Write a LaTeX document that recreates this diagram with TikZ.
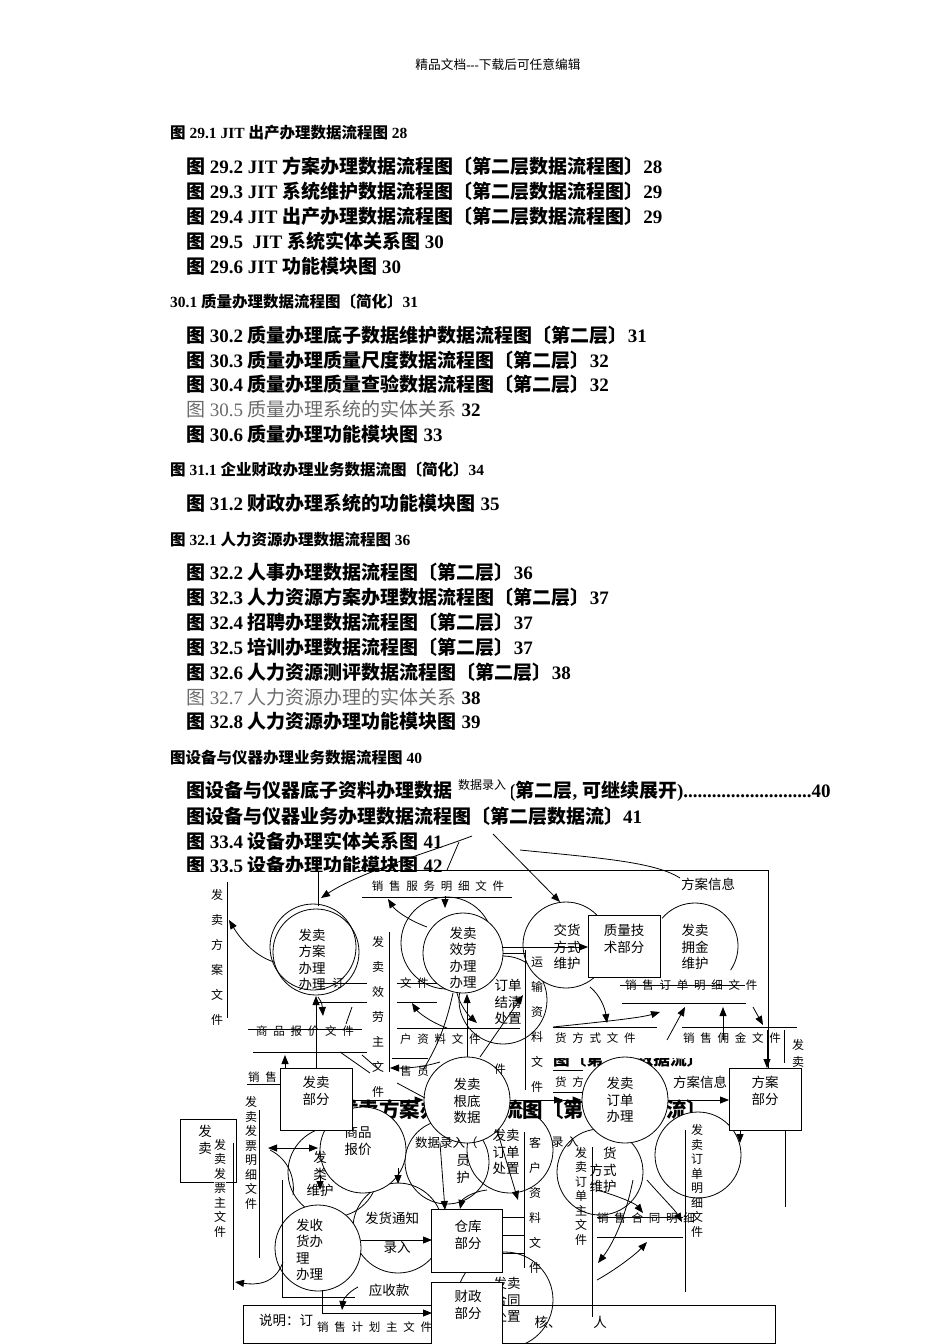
\documentclass[tikz,border=0pt]{standalone}
\usepackage{fontspec}
\setmainfont{Liberation Serif}
\newfontfamily\cjk{Noto Sans CJK SC}
\usetikzlibrary{arrows.meta}
\newcount\cjkcnt
\newXeTeXintercharclass\cjkcls
\cjkcnt="3000
\loop \XeTeXcharclass\cjkcnt=\cjkcls \advance\cjkcnt by 1 \ifnum\cjkcnt<"3040 \repeat
\cjkcnt="4E00
\loop \XeTeXcharclass\cjkcnt=\cjkcls \advance\cjkcnt by 1 \ifnum\cjkcnt<"A000 \repeat
\cjkcnt="FF00
\loop \XeTeXcharclass\cjkcnt=\cjkcls \advance\cjkcnt by 1 \ifnum\cjkcnt<"FFF0 \repeat
\XeTeXinterchartoks 0 \cjkcls = {\cjk}
\XeTeXinterchartoks 4095 \cjkcls = {\cjk}
\XeTeXinterchartoks \cjkcls 0 = {\rmfamily}
\XeTeXinterchartoks \cjkcls 4095 = {\rmfamily}
\XeTeXinterchartokenstate=1
\definecolor{greytxt}{gray}{0.42}
\tikzset{
 proc/.style={circle, draw, line width=0.8pt, minimum size=86pt, inner sep=0pt},
 ent/.style={rectangle, draw, line width=0.8pt, fill=white, minimum width=72pt, minimum height=62pt, inner sep=0pt},
 lab/.style={font=\fontsize{13.5}{16.5}\selectfont, align=center, inner sep=0pt},
 slab/.style={font=\fontsize{11.5}{14}\selectfont, inner sep=0pt},
 vlab/.style={font=\fontsize{12}{25}\selectfont, align=center, inner sep=0pt},
 vlabt/.style={font=\fontsize{12}{14.5}\selectfont, align=center, inner sep=0pt},
 ln/.style={line width=0.8pt},
 arr/.style={line width=0.8pt, -{Triangle[length=9pt,width=7pt]}},
 toc/.style={font=\bfseries\fontsize{19}{22}\selectfont, anchor=west, inner sep=0pt},
 toch/.style={font=\bfseries\fontsize{15.5}{18}\selectfont, anchor=west, inner sep=0pt},
}
\begin{document}
\begin{tikzpicture}[x=1pt,y=-1pt]
\useasboundingbox (0,0) rectangle (950,1344);
\fill[white] (0,0) rectangle (950,1344);
% ---------- header and list ----------
\node[font=\fontsize{12.7}{15}\selectfont, inner sep=0pt] (hdr) at (498,65) {精品文档{-}{-}{-}下载后可任意编辑};
\node[toch] (h291) at (170,133) {图 29.1 JIT 出产办理数据流程图 28};
\node[toc] (t292) at (186,166) {图 29.2 JIT 方案办理数据流程图〔第二层数据流程图〕28};
\node[toc] (t293) at (186,191) {图 29.3 JIT 系统维护数据流程图〔第二层数据流程图〕29};
\node[toc] (t294) at (186,216) {图 29.4 JIT 出产办理数据流程图〔第二层数据流程图〕29};
\node[toc] (t295) at (186,241) {图 29.5 \ JIT 系统实体关系图 30};
\node[toc] (t296) at (186,266) {图 29.6 JIT 功能模块图 30};
\node[toch] (h301) at (170,302) {30.1 质量办理数据流程图〔简化〕31};
\node[toc] (t302) at (186,335) {图 30.2 质量办理底子数据维护数据流程图〔第二层〕31};
\node[toc] (t303) at (186,360) {图 30.3 质量办理质量尺度数据流程图〔第二层〕32};
\node[toc] (t304) at (186,384) {图 30.4 质量办理质量查验数据流程图〔第二层〕32};
\node[toc] (t305) at (186,409) {{\color{greytxt}\mdseries 图 30.5 质量办理系统的实体关系} 32};
\node[toc] (t306) at (186,434) {图 30.6 质量办理功能模块图 33};
\node[toch] (h311) at (170,470) {图 31.1 企业财政办理业务数据流图〔简化〕34};
\node[toc] (t312) at (186,503) {图 31.2 财政办理系统的功能模块图 35};
\node[toch] (h321) at (170,540) {图 32.1 人力资源办理数据流程图 36};
\node[toc] (t322) at (186,572) {图 32.2 人事办理数据流程图〔第二层〕36};
\node[toc] (t323) at (186,597) {图 32.3 人力资源方案办理数据流程图〔第二层〕37};
\node[toc] (t324) at (186,622) {图 32.4 招聘办理数据流程图〔第二层〕37};
\node[toc] (t325) at (186,647) {图 32.5 培训办理数据流程图〔第二层〕37};
\node[toc] (t326) at (186,672) {图 32.6 人力资源测评数据流程图〔第二层〕38};
\node[toc] (t327) at (186,697) {{\color{greytxt}\mdseries 图 32.7 人力资源办理的实体关系} 38};
\node[toc] (t328) at (186,721) {图 32.8 人力资源办理功能模块图 39};
\node[toch] (h331) at (170,758) {图设备与仪器办理业务数据流程图 40};
\node[toc] (t331) at (186,791) {图设备与仪器底子资料办理数据流程图(第二层, 可继续展开)...........................40};
\node[toc] (t332) at (186,816) {图设备与仪器业务办理数据流程图〔第二层数据流〕41};
\node[toc] (t334) at (186,841) {图 33.4 设备办理实体关系图 41};
\node[toc] (t335) at (186,865) {图 33.5 设备办理功能模块图 42};
\fill[white] (452,776) rectangle (511,803);
\node[font=\fontsize{12}{14}\selectfont, inner sep=0pt] (dlr) at (482,785) {数据录入};
% ---------- diagram page ----------
\fill[white] (180,872) rectangle (806,1344);
% ghost heading texts
\node[font=\bfseries\fontsize{20.5}{22}\selectfont, anchor=west, inner sep=0pt] (g1) at (338,1110) {发卖方案办理数据流图〔第二层数据流〕};
\begin{scope}
\clip (545,1058) rectangle (712,1068);
\node[font=\bfseries\fontsize{16.7}{18}\selectfont, anchor=west, inner sep=0pt] (g2) at (553,1059) {图〔第二层数据流〕};
\end{scope}
% explanation box and left box
\draw[ln, fill=white] (243,1305) rectangle (775,1343);
\node[lab, anchor=west] (note) at (259,1320) {说明：订};
\node[lab] (note2) at (548,1322) {核、};
\node[lab] (note3) at (600,1322) {人};
\draw[ln, fill=white] (180,1119) rectangle (236,1182);
\node[lab] (lbx) at (205,1140) {发\\卖};
% background (unfilled) circles
\node[proc, minimum size=86pt] (c1b) at (313,947) {};
\node[proc, minimum size=86pt] (c1) at (316,952) {};
\node[proc, minimum size=92pt] (c2b) at (447,943) {};
\node[proc, minimum size=88pt] (coc) at (503,1000) {};
\node[proc, minimum size=86pt] (cso) at (510,1150) {};
\node[proc, minimum size=84pt] (cde) at (447,1162) {};
\node[proc, minimum size=86pt] (cdm) at (600,1172) {};
\node[proc, minimum size=96pt] (cht) at (505,1300) {};
\node[proc, minimum size=90pt] (c8) at (333,1172) {};
\node[proc, minimum size=90pt] (c14) at (398,1228) {};
% white filled circles
\node[proc, minimum size=80pt, fill=white] (c2) at (463,953) {};
\node[proc, fill=white] (c3) at (566,945) {};
\node[proc, fill=white] (c7) at (467,1100) {};
\node[proc, fill=white] (c10) at (625,1100) {};
\node[proc, fill=white] (c12) at (698,1155) {};
\node[proc, fill=white] (c9) at (363,1150) {};
\node[proc, fill=white] (c13) at (318,1248) {};
\draw[ln] ([shift={(-140:43)}]695,946) arc[start angle=-140, end angle=34, radius=43];
% ---------- data stores ----------
\draw[ln] (227,882) -- (227,1018);
\node[vlab] (sfa) at (217,957) {发\\卖\\方\\案\\文\\件};
\draw[ln] (362,897) -- (512,897);
\node[slab] (sfw) at (438,886) {销~~售~~服~~务~~明~~细~~文~~件};
\draw[ln] (389,932) -- (389,1072);
\node[vlab, fill=white] (sxz) at (378,1017) {发\\卖\\效\\劳\\主\\文\\件};
\draw[ln] (317,983) -- (367,983) (397,983) -- (437,983);
\draw[ln] (317,1002) -- (367,1002) (397,1002) -- (437,1002);
\node[slab] (sd1) at (338,983) {订};
\node[slab, anchor=west] (sd2) at (400,983) {文~~件};
\draw[ln] (248,1029) -- (362,1029);
\draw[ln] (253,1052) -- (367,1052);
\node[slab] (spb) at (305,1031) {商~~品~~报~~价~~文~~件};
\draw[ln] (397,1028) -- (520,1028);
\node[slab, anchor=west] (skh) at (400,1039) {户~~资~~料~~文~~件};
\draw[ln] (392,1058) -- (428,1058);
\node[slab, anchor=west] (ssy) at (400,1071) {售~~员};
\node[slab] (ssy2) at (500,1069) {件};
\draw[ln] (525,950) -- (525,1090);
\node[vlab] (syz) at (537,1025) {运\\输\\资\\料\\文\\件};
\draw[ln] (553,1027) -- (657,1027);
\node[slab, anchor=west] (sjh) at (555,1038) {货~~方~~式~~文~~件};
\draw[ln] (553,1070) -- (583,1070) (553,1092) -- (583,1092);
\node[slab, anchor=west] (sjh2) at (555,1082) {货~~方};
\draw[ln] (682,1027) -- (797,1027);
\node[slab, anchor=west] (syj) at (683,1038) {销~~售~~佣~~金~~文~~件};
\draw[ln] (620,985) -- (745,985);
\draw[ln] (622,1003) -- (746,1003);
\node[slab, anchor=west] (sdm) at (625,985) {销~~售~~订~~单~~明~~细~~文~~件};
\draw[ln] (524,1132) -- (524,1268);
\node[vlab] (skz) at (535,1205) {客\\户\\资\\料\\文\\件};
\draw[ln] (592,1147) -- (592,1317);
\node[vlabt] (sdz) at (581,1196) {发\\卖\\订\\单\\主\\文\\件};
\draw[ln] (259,1110) -- (259,1258);
\node[vlabt] (sfm) at (251,1153) {发\\卖\\发\\票\\明\\细\\文\\件};
\draw[ln] (233,1143) -- (233,1290);
\node[vlabt, fill=white] (sfz) at (220,1188) {发\\卖\\发\\票\\主\\文\\件};
\draw[ln] (685,1130) -- (685,1292);
\node[vlabt] (sdx) at (697,1181) {发\\卖\\订\\单\\明\\细\\文\\件};
\draw[ln] (784,1030) -- (784,1063) (785,1130) -- (785,1207);
\node[font=\fontsize{12}{17}\selectfont, align=center, inner sep=0pt] (sfr) at (798,1053) {发\\卖};
\draw[ln] (597,1217) -- (683,1217);
\draw[ln] (597,1237) -- (683,1237);
\node[slab, anchor=west] (sht) at (597,1218) {销~~售~~合~~同~~明~~细};
\node[slab, anchor=west] (sjz) at (317,1327) {销~~售~~计~~划~~主~~文~~件};
\draw[ln] (247,1084) -- (280,1084);
\node[slab, anchor=west] (sxs) at (248,1077) {销~~售};
% ---------- flows ----------
\draw[ln] (360,870) -- (768,870) -- (768,1068);
\draw[arr] (472,836) .. controls (430,852) and (360,872) .. (321,898);
\draw[ln] (459,842) -- (447,870);
\draw[ln] (318,871) -- (318,906);
\draw[arr] (493,834) -- (560,902);
\draw[ln] (520,850) .. controls (600,858) and (655,862) .. (680,878);
\node[lab] (fax) at (708,884) {方案信息};
\draw[arr] (274,962) .. controls (252,955) and (238,935) .. (229,920);
\draw[arr] (445,896) -- (445,908);
\draw[arr] (427,927) .. controls (408,920) and (395,910) .. (388,899);
\draw[arr] (503,947) -- (588,947);
\draw[ln] (503,953) -- (525,953);
\draw[arr] (316,1068) -- (316,996);
\draw[arr] (318,997) .. controls (322,1003) .. (323,1016);
\draw[ln] (352,1007) -- (346,1024);
\draw[arr] (467,1057) -- (467,994);
\draw[arr] (457,993) .. controls (460,1005) and (468,1015) .. (477,1023);
\draw[ln] (453,993) .. controls (445,1030) and (435,1050) .. (423,1070);
\draw[arr] (447,1028) .. controls (430,1022) and (418,1012) .. (412,1003);
\draw[arr] (440,1062) .. controls (420,1068) and (405,1068) .. (390,1068);
\draw[arr] (480,1057) -- (523,995);
\draw[arr] (590,987) .. controls (600,995) and (605,1008) .. (607,1023);
\draw[arr] (553,1027) .. controls (600,1022) and (640,1018) .. (660,1012);
\draw[arr] (667,1040) -- (685,1007);
\draw[arr] (723,1040) -- (723,1007);
\draw[arr] (753,1007) -- (763,1025);
\draw[arr] (767,1030) -- (767,1068);
\draw[ln] (340,1052) -- (370,1073) (362,1055) -- (377,1068) (397,1083) -- (425,1098);
\draw[arr] (285,1068) -- (285,1055);
\draw[arr] (352,1100) -- (c7.west);
\draw[arr] (c7.east) -- (563,1100);
\draw[arr] (563,1100) -- (c10.west);
\draw[arr] (c10.east) -- (729,1100);
\node[lab] (fax2) at (700,1082) {方案信息};
\draw[arr] (740,1130) -- (740,1143);
\draw[{Triangle[length=9pt,width=7pt]}-{Triangle[length=9pt,width=7pt]}, line width=0.8pt] (268,1148) -- (318,1148);
\draw[ln] (270,1150) .. controls (290,1160) and (295,1180) .. (293,1195);
\draw[arr] (398,1168) -- (398,1184);
\draw[arr] (320,1175) -- (320,1190);
\draw[arr] (440,1143) -- (445,1210);
\draw[arr] (487,1190) .. controls (470,1192) and (462,1200) .. (460,1209);
\draw[arr] (497,1130) -- (518,1200);
\draw[ln] (503,1235) -- (524,1235) (503,1253) -- (524,1253) (503,1217) -- (524,1217);
\draw[arr] (361,1240) -- (432,1240);
\draw[arr] (322,1290) -- (322,1313) -- (432,1313);
\draw[arr] (358,1287) .. controls (348,1292) and (343,1300) .. (342,1310);
\draw[ln] (282,1180) -- (282,1297) -- (355,1297);
\draw[arr] (283,1262) .. controls (275,1285) and (255,1285) .. (235,1282);
\draw[arr] (597,1190) .. controls (615,1195) and (635,1203) .. (643,1213);
\draw[arr] (647,1180) .. controls (660,1195) and (675,1210) .. (682,1222);
\draw[arr] (597,1280) .. controls (615,1270) and (635,1255) .. (647,1242);
\draw[arr] (633,1180) .. controls (625,1220) and (612,1245) .. (598,1263);
% ---------- process labels ----------
\node[lab] (c1t) at (312,960) {发卖\\方案\\办理\\办理};
\node[lab] (c2t) at (463,958) {发卖\\效劳\\办理\\办理};
\node[lab] (c3t) at (567,947) {交货\\方式\\维护};
\node[lab] (c5t) at (695,947) {发卖\\拥金\\维护};
\node[lab] (coct) at (508,1002) {订单\\结清\\处置};
\node[lab] (c7t) at (467,1101) {发卖\\根底\\数据};
\node[lab] (c10t) at (620,1100) {发卖\\订单\\办理};
\node[lab] (c9t) at (358,1141) {商品\\报价};
\node[lab] (c8t) at (320,1174) {发\\类\\维护};
\node[lab] (csot) at (506,1152) {发卖\\订单\\处置};
\node[font=\fontsize{12.5}{14}\selectfont, anchor=west, inner sep=0pt] (cdet) at (415,1143) {数据录入（};
\node[lab] (cdet2) at (463,1169) {员\\护};
\node[lab, align=right] (cdmt) at (603,1170) {货\\方式\\维护};
\node[font=\fontsize{12}{14}\selectfont, inner sep=0pt] (lr) at (565,1142) {录~入};
\node[lab, align=left, anchor=west] (c13t) at (296,1250) {发收\\货办\\理\\办理};
\node[lab] (fhtz) at (392,1218) {发货通知};
\node[lab] (lr2) at (397,1248) {录入};
\node[lab] (ysk) at (389,1290) {应收款};
\node[lab] (chtt) at (507,1300) {发卖\\合同\\处置};
% ---------- external entities ----------
\node[ent] (qa) at (624,946) {};
\node[lab] (qat) at (624,939) {质量技\\术部分};
\node[ent] (sd) at (316,1099) {};
\node[lab] (sdt) at (316,1091) {发卖\\部分};
\node[ent] (pp) at (765,1099) {};
\node[lab] (ppt) at (765,1091) {方案\\部分};
\node[ent, minimum width=71pt, minimum height=63pt] (wh) at (467,1241) {};
\node[lab] (wht) at (468,1235) {仓库\\部分};
\node[ent, minimum width=71pt] (fin) at (467,1313) {};
\node[lab] (fint) at (468,1305) {财政\\部分};
\end{tikzpicture}
\end{document}
